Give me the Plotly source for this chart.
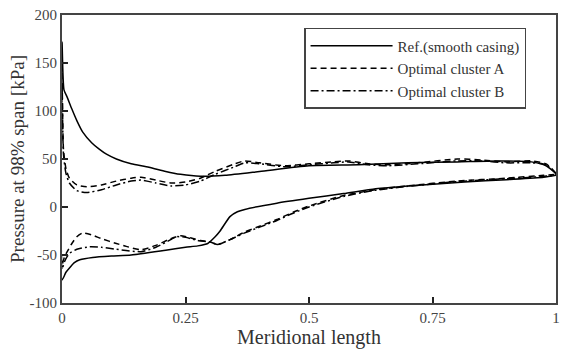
import plotly.graph_objects as go

# ---- data ----
ref_up_x = [0.0, 0.004, 0.01, 0.02, 0.03, 0.042, 0.06, 0.076, 0.09, 0.11, 0.14, 0.176, 0.21, 0.24, 0.28, 0.33, 0.4, 0.5, 0.6, 0.7, 0.8, 0.88, 0.95, 0.98, 1.0]
ref_up_y = [172, 122, 115, 102, 90, 78, 67, 60, 55, 50, 45, 41.5, 37, 34, 32, 33, 37, 43, 44, 46, 47, 48, 47, 43, 35]
ref_lo_x = [0.0, 0.008, 0.016, 0.025, 0.036, 0.062, 0.1, 0.14, 0.21, 0.25, 0.275, 0.295, 0.31, 0.32, 0.34, 0.355, 0.37, 0.435, 0.5, 0.57, 0.635, 0.7, 0.815, 0.9, 0.975, 1.0]
ref_lo_y = [-76, -68, -63, -58, -55, -52.5, -51, -50, -45, -42, -40.5, -38, -31, -25, -10, -5, -2.5, 4, 9, 14, 19, 22, 26, 28.5, 31, 33]

a_up_x = [0.0, 0.003, 0.008, 0.015, 0.03, 0.05, 0.08, 0.11, 0.14, 0.16, 0.19, 0.22, 0.25, 0.28, 0.31, 0.35, 0.37, 0.4, 0.45, 0.5, 0.55, 0.58, 0.62, 0.66, 0.72, 0.8, 0.85, 0.9, 0.95, 0.98, 1.0]
a_up_y = [140, 60, 40, 30, 23, 21, 23, 27, 30, 31, 28, 25, 26, 30, 37, 45, 48, 46, 43, 45, 47, 48, 45, 44, 46, 50, 49, 47, 48, 45, 35]
a_lo_x = [0.0, 0.005, 0.01, 0.02, 0.03, 0.042, 0.06, 0.08, 0.11, 0.13, 0.16, 0.19, 0.22, 0.24, 0.26, 0.28, 0.3, 0.315, 0.34, 0.37, 0.4, 0.435, 0.47, 0.5, 0.57, 0.635, 0.7, 0.8, 0.9, 0.975, 1.0]
a_lo_y = [-60, -52, -47, -38, -31, -27, -29, -33, -38, -41, -44.5, -40, -33, -30, -32, -35, -36.5, -39, -34, -26, -20, -13, -5, 1, 12, 18, 22, 27, 30, 33, 34]

b_up_x = [0.0, 0.003, 0.008, 0.015, 0.03, 0.05, 0.08, 0.11, 0.14, 0.16, 0.19, 0.22, 0.25, 0.28, 0.31, 0.35, 0.37, 0.4, 0.45, 0.5, 0.55, 0.58, 0.62, 0.66, 0.72, 0.8, 0.85, 0.9, 0.95, 0.98, 1.0]
b_up_y = [130, 55, 35, 25, 17, 15, 18, 23, 27, 28, 25, 22, 23, 27, 34, 42, 46, 45, 42, 44, 46, 47, 44, 43, 45, 48, 48, 46, 46, 44, 34]
b_lo_x = [0.0, 0.005, 0.01, 0.016, 0.03, 0.056, 0.08, 0.11, 0.16, 0.19, 0.22, 0.23, 0.25, 0.275, 0.3, 0.315, 0.34, 0.37, 0.4, 0.435, 0.47, 0.5, 0.57, 0.635, 0.7, 0.8, 0.9, 0.975, 1.0]
b_lo_y = [-65, -57, -52, -48, -44, -41.5, -42, -44, -46.5, -42, -34, -31, -31.5, -35, -36.5, -39, -34, -27, -21, -14, -6, 0, 11, 17.5, 21.5, 26.5, 29.5, 32, 34]

names = ["Ref.(smooth casing)", "Optimal cluster A", "Optimal cluster B"]
x_ticks = [0, 0.25, 0.5, 0.75, 1]
x_tick_text = ["0", "0.25", "0.5", "0.75", "1"]
y_ticks = [-100, -50, 0, 50, 100, 150, 200]
y_tick_text = ["-100", "-50", "0", "50", "100", "150", "200"]

series = [
    (ref_up_x, ref_up_y, ref_lo_x, ref_lo_y, "solid"),
    (a_up_x, a_up_y, a_lo_x, a_lo_y, "6px,4px"),
    (b_up_x, b_up_y, b_lo_x, b_lo_y, "8px,3px,2px,3px"),
]

fig = go.Figure()
for name, (ux, uy, lx, ly, dash) in zip(names, series):
    xs = list(reversed(ux)) + lx
    ys = list(reversed(uy)) + ly
    fig.add_trace(go.Scatter(
        x=xs, y=ys, mode="lines", name=name,
        line=dict(color="black", width=1.5, dash=dash, shape="spline", smoothing=0.6),
    ))

font_family = "Liberation Serif"
fig.update_layout(
    width=567, height=354,
    margin=dict(l=62, r=9, t=7, b=51),
    paper_bgcolor="white", plot_bgcolor="white",
    font=dict(family=font_family, size=15, color="#333"),
    showlegend=True,
    legend=dict(
        x=0.49, y=0.955, xanchor="left", yanchor="top",
        bordercolor="#444", borderwidth=1.5, bgcolor="white",
        font=dict(family=font_family, size=15, color="#333"),
        tracegroupgap=0, itemwidth=82,
    ),
)
fig.update_xaxes(
    range=[0, 1], tickvals=x_ticks, ticktext=x_tick_text,
    ticks="inside", ticklen=6, tickwidth=1.5, tickcolor="#222",
    showline=True, linecolor="#444", linewidth=2, mirror=True,
    showgrid=False, zeroline=False,
    title=dict(text="Meridional length", font=dict(size=20, family=font_family, color="#333"), standoff=1),
    tickfont=dict(size=15, family=font_family, color="#444"),
)
fig.update_yaxes(
    range=[-100, 200], tickvals=y_ticks, ticktext=y_tick_text,
    ticks="inside", ticklen=6, tickwidth=1.5, tickcolor="#222",
    showline=True, linecolor="#444", linewidth=2, mirror=True,
    showgrid=False, zeroline=False,
    title=dict(text="Pressure at 98% span [kPa]", font=dict(size=19, family=font_family, color="#333"), standoff=0),
    tickfont=dict(size=15, family=font_family, color="#444"),
)

fig.write_html("out.html")
